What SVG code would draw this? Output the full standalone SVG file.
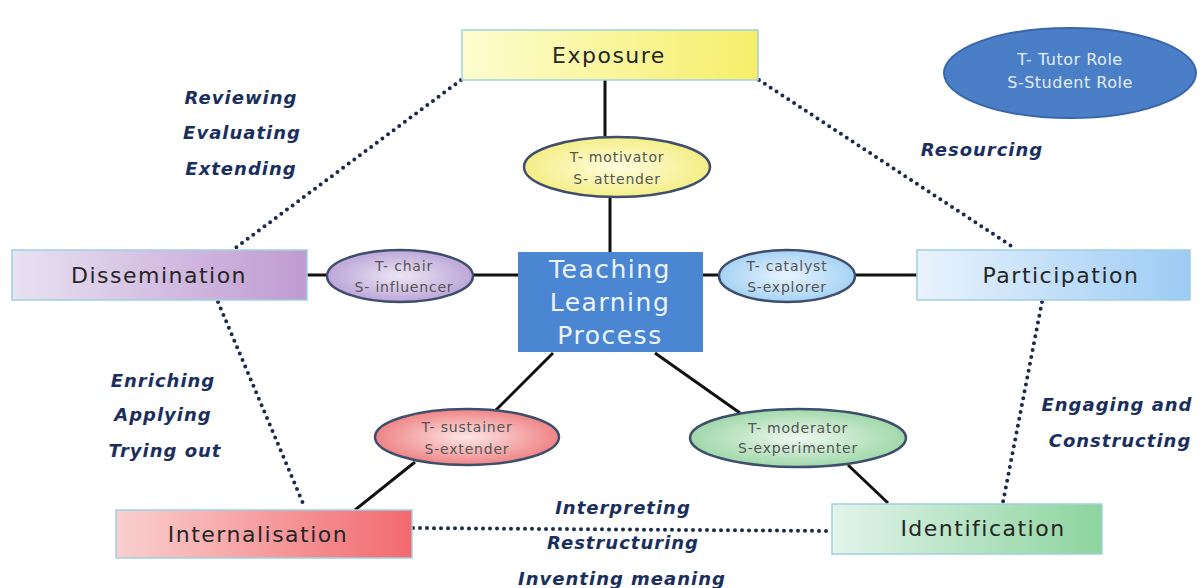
<svg xmlns="http://www.w3.org/2000/svg" width="1203" height="588" viewBox="0 0 1203 588">
<defs>
<linearGradient id="gExp" x1="0" y1="0" x2="1" y2="0"><stop offset="0" stop-color="#fdfdd0"/><stop offset="1" stop-color="#f6ee6a"/></linearGradient>
<linearGradient id="gDis" x1="0" y1="0" x2="1" y2="0"><stop offset="0" stop-color="#e8e2f2"/><stop offset="1" stop-color="#c09ad2"/></linearGradient>
<linearGradient id="gPar" x1="0" y1="0" x2="1" y2="0"><stop offset="0" stop-color="#eaf3fd"/><stop offset="1" stop-color="#9ccbf4"/></linearGradient>
<linearGradient id="gInt" x1="0" y1="0" x2="1" y2="0"><stop offset="0" stop-color="#fad0d0"/><stop offset="1" stop-color="#f26a6e"/></linearGradient>
<linearGradient id="gIde" x1="0" y1="0" x2="1" y2="0"><stop offset="0" stop-color="#e2f4ea"/><stop offset="1" stop-color="#8cd49e"/></linearGradient>
<radialGradient id="eYel"><stop offset="0" stop-color="#fffde0"/><stop offset="1" stop-color="#f4ee86"/></radialGradient>
<radialGradient id="ePur"><stop offset="0" stop-color="#ece6f4"/><stop offset="1" stop-color="#bca6d8"/></radialGradient>
<radialGradient id="eBlu"><stop offset="0" stop-color="#e8f4ff"/><stop offset="1" stop-color="#a6d2f4"/></radialGradient>
<radialGradient id="eRed"><stop offset="0" stop-color="#fde6e6"/><stop offset="1" stop-color="#ef8486"/></radialGradient>
<radialGradient id="eGrn"><stop offset="0" stop-color="#eef8ee"/><stop offset="1" stop-color="#a0d8aa"/></radialGradient>
</defs>
<style>
.box{stroke:#9fd2de;stroke-width:1.5}
.btxt{font-family:"DejaVu Sans",Verdana,sans-serif;font-size:22px;letter-spacing:1.5px;fill:#262626;text-anchor:middle}
.ell{stroke:#3e4e6c;stroke-width:2.5}
.etxt{font-family:"DejaVu Sans",Verdana,sans-serif;font-size:14px;letter-spacing:0.8px;fill:#555;text-anchor:middle}
.lbl{font-family:"DejaVu Sans",Verdana,sans-serif;font-size:18px;font-weight:bold;font-style:italic;letter-spacing:1px;fill:#1b2f5e;text-anchor:middle}
.solid{stroke:#111;stroke-width:3;fill:none}
.dot{stroke:#1c2a4c;stroke-width:4;stroke-linecap:round;stroke-dasharray:0 7;fill:none}
</style>
<rect width="1203" height="588" fill="#ffffff"/>
<g id="connectors">
<line class="solid" x1="605" y1="80" x2="605" y2="136"/>
<line class="solid" x1="610" y1="198" x2="610" y2="252"/>
<line class="solid" x1="307" y1="275" x2="327" y2="275"/>
<line class="solid" x1="473" y1="275" x2="518" y2="275"/>
<line class="solid" x1="703" y1="275" x2="719" y2="275"/>
<line class="solid" x1="855" y1="275" x2="917" y2="275"/>
<line class="solid" x1="553" y1="353" x2="494" y2="412"/>
<line class="solid" x1="415" y1="462" x2="355" y2="510"/>
<line class="solid" x1="655" y1="353" x2="740" y2="413"/>
<line class="solid" x1="848" y1="465" x2="888" y2="503"/>
<line class="dot" x1="461" y1="80" x2="234" y2="249"/>
<line class="dot" x1="759" y1="80" x2="1016" y2="249"/>
<line class="dot" x1="218" y1="302" x2="305" y2="508"/>
<line class="dot" x1="1042" y1="302" x2="1003" y2="502"/>
<line class="dot" x1="413" y1="528" x2="832" y2="531"/>
</g>
<g id="exposure"><rect class="box" x="462" y="30" width="296" height="50" fill="url(#gExp)"/><text class="btxt" x="609" y="63">Exposure</text></g>
<g id="dissemination"><rect class="box" x="12" y="250" width="295" height="50" fill="url(#gDis)"/><text class="btxt" x="159" y="283">Dissemination</text></g>
<g id="participation"><rect class="box" x="917" y="250" width="273" height="50" fill="url(#gPar)"/><text class="btxt" x="1061" y="283">Participation</text></g>
<g id="internalisation"><rect class="box" x="116" y="510" width="296" height="48" fill="url(#gInt)"/><text class="btxt" x="258" y="542">Internalisation</text></g>
<g id="identification"><rect class="box" x="832" y="504" width="270" height="50" fill="url(#gIde)"/><text class="btxt" x="983" y="536">Identification</text></g>
<g id="tlp"><rect x="518" y="252" width="185" height="100" fill="#4a86d2"/>
<text font-family="'DejaVu Sans',Verdana,sans-serif" font-size="25" fill="#eef4ff" text-anchor="middle" letter-spacing="1.5"><tspan x="610" y="278">Teaching</tspan><tspan x="610" y="311">Learning</tspan><tspan x="610" y="344">Process</tspan></text></g>
<g id="motivator"><ellipse class="ell" cx="617" cy="167" rx="93" ry="30" fill="url(#eYel)"/><text class="etxt"><tspan x="617" y="162">T- motivator</tspan><tspan x="617" y="184">S- attender</tspan></text></g>
<g id="chair"><ellipse class="ell" cx="400" cy="276" rx="73" ry="26" fill="url(#ePur)"/><text class="etxt" font-size="13"><tspan x="404" y="271">T- chair</tspan><tspan x="404" y="292">S- influencer</tspan></text></g>
<g id="catalyst"><ellipse class="ell" cx="787" cy="276" rx="68" ry="26" fill="url(#eBlu)"/><text class="etxt"><tspan x="787" y="271">T- catalyst</tspan><tspan x="787" y="292">S-explorer</tspan></text></g>
<g id="sustainer"><ellipse class="ell" cx="467" cy="437" rx="92" ry="28" fill="url(#eRed)"/><text class="etxt"><tspan x="467" y="432">T- sustainer</tspan><tspan x="467" y="454">S-extender</tspan></text></g>
<g id="moderator"><ellipse class="ell" cx="798" cy="438" rx="108" ry="29" fill="url(#eGrn)"/><text class="etxt" font-size="12.5" letter-spacing="0.5"><tspan x="798" y="433">T- moderator</tspan><tspan x="798" y="453">S-experimenter</tspan></text></g>
<g id="legend"><ellipse cx="1070" cy="73" rx="126" ry="45" fill="#4a7fc8" stroke="#3a66aa" stroke-width="2"/><text font-family="'DejaVu Sans',Verdana,sans-serif" font-size="16" fill="#e4ecf8" text-anchor="middle" letter-spacing="0.5"><tspan x="1070" y="65">T- Tutor Role</tspan><tspan x="1070" y="88">S-Student Role</tspan></text></g>
<g id="labels">
<text class="lbl" x="241" y="104">Reviewing</text>
<text class="lbl" x="242" y="139">Evaluating</text>
<text class="lbl" x="241" y="175">Extending</text>
<text class="lbl" x="982" y="156">Resourcing</text>
<text class="lbl" x="163" y="387">Enriching</text>
<text class="lbl" x="163" y="421">Applying</text>
<text class="lbl" x="165" y="457">Trying out</text>
<text class="lbl" x="1117" y="411">Engaging and</text>
<text class="lbl" x="1120" y="447">Constructing</text>
<text class="lbl" x="623" y="514">Interpreting</text>
<text class="lbl" x="623" y="549">Restructuring</text>
<text class="lbl" x="622" y="585">Inventing meaning</text>
</g>
</svg>
